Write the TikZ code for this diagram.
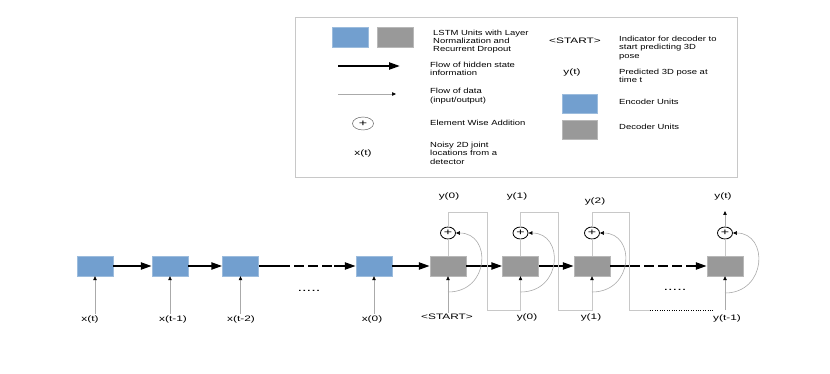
\documentclass[tikz,border=0pt]{standalone}
\usepackage{fontspec}
\setmainfont{Liberation Sans}[FakeStretch=1.28]
\newfontfamily\lblfont{Liberation Sans}[FakeStretch=1.5]
\usetikzlibrary{arrows.meta,shapes.geometric}
\definecolor{encblue}{RGB}{114,159,207}
\definecolor{decgray}{RGB}{153,153,153}
\definecolor{linegray}{RGB}{170,170,170}
\definecolor{framegray}{RGB}{200,200,200}

\begin{document}
\begin{tikzpicture}[x=1pt,y=-1pt,
  enc/.style={draw=encblue!70!white,fill=encblue,minimum width=36pt,minimum height=20pt,inner sep=0pt},
  dec/.style={draw=decgray!70!white,fill=decgray,minimum width=36pt,minimum height=20pt,inner sep=0pt},
  hid/.style={line width=2.2pt,-{Triangle[length=11pt,width=7pt]}},
  gap/.style={dash pattern=on 10pt off 4pt,dash phase=10pt},
  tip/.style={-{Triangle[length=4pt,width=3.5pt,color=black]}},
  dat/.style={linegray,line width=0.6pt,tip},
  fb/.style={framegray,line width=0.6pt},
  add/.style={draw,line width=0.8pt,ellipse,minimum width=15pt,minimum height=12pt,inner sep=0pt,font=\lblfont\fontsize{9.5}{9.5}\selectfont},
  lbl/.style={font=\lblfont\fontsize{7.9}{9}\selectfont,inner sep=1.5pt},
  txt/.style={font=\fontsize{7.4}{8.4}\selectfont,align=left,anchor=west,inner sep=0pt}]
\useasboundingbox (0,0) rectangle (830,374);

% legend
\draw[framegray] (295,17) rectangle (737,177);
\node[enc] (kenc) at (350.5,37) {};
\node[dec] (kdec) at (395,37) {};
\node[txt] (tlstm) at (433,41.5) {LSTM Units with Layer\\Normalization and\\Recurrent Dropout};
\coordinate (la1) at (338,66);
\coordinate (la2) at (400,66);
\draw[hid] (la1) -- (la2);
\node[txt] (thid) at (430,68.8) {Flow of hidden state\\information};
\coordinate (lb1) at (338,94);
\coordinate (lb2) at (396,94);
\draw[dat] (lb1) -- (lb2);
\node[txt] (tdat) at (430,96.2) {Flow of data\\(input/output)};
\node[add,line width=0.5pt,draw=black!60,minimum width=21pt,minimum height=13pt] (kadd) at (363,123.5) {+};
\node[txt] (tadd) at (430,122.7) {Element Wise Addition};
\node[lbl] (kx) at (363,153) {x(t)};
\node[txt] (tx) at (430,153.3) {Noisy 2D joint\\locations from a\\detector};
\node[lbl] (kstart) at (575,41) {<START>};
\node[txt] (tstart) at (619,47.7) {Indicator for decoder to\\start predicting 3D\\pose};
\node[lbl] (ky) at (572,72) {y(t)};
\node[txt] (ty) at (619,75.8) {Predicted 3D pose at\\time t};
\node[enc,minimum width=35pt,minimum height=19pt] (kenc2) at (579.5,103.5) {};
\node[txt] (tenc) at (619,102) {Encoder Units};
\node[dec,minimum width=35pt,minimum height=19pt] (kdec2) at (579.5,130) {};
\node[txt] (tdec) at (619,127) {Decoder Units};

% encoder
\node[enc] (e1) at (95,266) {};
\node[enc] (e2) at (170,266) {};
\node[enc] (e3) at (240.5,266) {};
\node[enc] (e4) at (374,266) {};
\node[lbl] (x1) at (90,319) {x(t)};
\node[lbl] (x2) at (173,319) {x(t-1)};
\node[lbl] (x3) at (241,319) {x(t-2)};
\node[lbl] (x4) at (372,319) {x(0)};
\draw[dat] (e1 |- x1.north) -- (e1);
\draw[dat] (e2 |- x2.north) -- (e2);
\draw[dat] (e3 |- x3.north) -- (e3);
\draw[dat] (e4 |- x4.north) -- (e4);
\node[lbl,font=\lblfont\fontsize{11}{11}\selectfont] (edots) at (309,291) {.....};
\coordinate (g1) at (290,266);
\coordinate (g2) at (334,266);
\draw[hid] (e1) -- (e2);
\draw[hid] (e2) -- (e3);
\draw[hid,-] (e3) -- (g1);
\draw[hid,-,gap] (g1) -- (g2);
\draw[hid] (g2) -- (e4);

% decoder
\node[dec] (d1) at (448,266) {};
\node[dec] (d2) at (520.5,266) {};
\node[dec] (d3) at (592,266) {};
\node[dec] (d4) at (725,266) {};
\draw[hid] (e4) -- (d1);
\draw[hid] (d1) -- (d2);
\draw[hid] (d2) -- (d3);
\coordinate (g3) at (640,266);
\coordinate (g4) at (696,266);
\draw[hid,-] (d3) -- (g3);
\draw[hid,-,gap] (g3) -- (g4);
\draw[hid] (g4) -- (d4);

\node[add] (o1) at (448,233) {+};
\node[add] (o2) at (520.5,233) {+};
\node[add] (o3) at (592,233) {+};
\node[add] (o4) at (725,233) {+};
\draw[fb] (d1) -- (o1);
\draw[fb] (d2) -- (o2);
\draw[fb] (d3) -- (o3);
\draw[fb] (d4) -- (o4);

\node[lbl] (y0) at (449,196) {y(0)};
\node[lbl] (y1) at (517,196) {y(1)};
\node[lbl] (y2) at (595,201) {y(2)};
\node[lbl] (yt) at (723,196) {y(t)};
\coordinate (k10) at (725,211);
\draw[dat] (o4) -- (k10);

\node[lbl] (s0) at (447,317) {<START>};
\node[lbl] (s1) at (527,317) {y(0)};
\node[lbl] (s2) at (591,317) {y(1)};
\node[lbl] (s3) at (727,318) {y(t-1)};
\draw[dat] (d1 |- s0.north) -- (d1);

% feedback of predictions
\coordinate (k1) at (487,212);
\coordinate (k2) at (487,310);
\coordinate (k3) at (558,212);
\coordinate (k4) at (558,310);
\coordinate (k5) at (629,212);
\coordinate (k6) at (629,310);
\coordinate (k7) at (650,310);
\coordinate (k8) at (713,310);
\coordinate (k9) at (725,310);
\draw[fb,tip] (o1.north) |- (k1) -- (k2) -| (d2.south);
\draw[fb,tip] (o2.north) |- (k3) -- (k4) -| (d3.south);
\draw[fb] (o3.north) |- (k5) -- (k6) -- (k7);
\draw[line width=0.7pt,dash pattern=on 1pt off 1.4pt] (k7) -- (k8);
\draw[dat] (k9) -- (d4);
\node[lbl,font=\lblfont\fontsize{11}{11}\selectfont] (ddots) at (675,290) {.....};

% residual connections
\coordinate (r1) at (448,292);
\coordinate (r2) at (520.5,292);
\coordinate (r3) at (592,292);
\coordinate (r4) at (725,293);
\draw[dat] (r1) .. controls +(42,0) and +(36,0) .. (o1.east);
\draw[dat] (r2) .. controls +(42,0) and +(36,0) .. (o2.east);
\draw[dat] (r3) .. controls +(42,0) and +(36,0) .. (o3.east);
\draw[dat] (r4) .. controls +(42,0) and +(36,0) .. (o4.east);
\end{tikzpicture}
\end{document}
